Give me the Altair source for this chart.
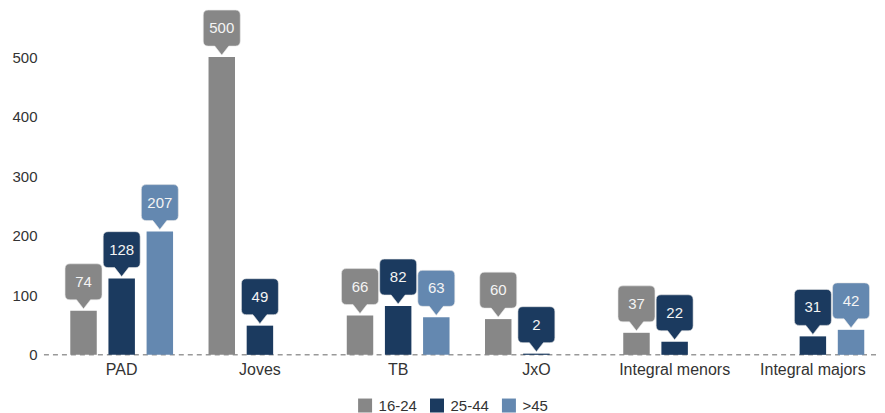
import altair as alt
import pandas as pd

categories = ["PAD", "Joves", "TB", "JxO", "Integral menors", "Integral majors"]
groups = ["16-24", "25-44", ">45"]
values_16_24 = [74, 500, 66, 60, 37, None]
values_25_44 = [128, 49, 82, 2, 22, 31]
values_45 = [207, None, 63, None, None, 42]
colors = ["#878787", "#1b3a5f", "#6488b0"]
y_ticks = [0, 100, 200, 300, 400, 500]

rows = []
for g, vals in zip(groups, [values_16_24, values_25_44, values_45]):
    for c, v in zip(categories, vals):
        if v is not None:
            rows.append({"cat": c, "grp": g, "val": v})
df = pd.DataFrame(rows)

FONT = "Liberation Sans"

bubble = ("M0,-2 L-7,-11 L-13.5,-11 Q-18.5,-11 -18.5,-16 L-18.5,-42 "
          "Q-18.5,-47 -13.5,-47 L13.5,-47 Q18.5,-47 18.5,-42 L18.5,-16 "
          "Q18.5,-11 13.5,-11 L7,-11 Z")

x_enc = alt.X("cat:N", sort=categories, title=None,
              scale=alt.Scale(paddingInner=0.2565, paddingOuter=0.1449, align=0.707),
              axis=alt.Axis(labelAngle=0, domain=False, ticks=False, labelPadding=7,
                            labelFontSize=16, labelColor="#333333", labelFont=FONT))
xo_enc = alt.XOffset("grp:N", sort=groups,
                     scale=alt.Scale(domain=groups, paddingInner=0.306, paddingOuter=0))
y_enc = alt.Y("val:Q", title=None,
              scale=alt.Scale(domain=[0, 582], nice=False, zero=True),
              axis=alt.Axis(values=y_ticks, domain=False, ticks=False, grid=False,
                            labelPadding=5, labelFontSize=15, labelColor="#333333",
                            labelFont=FONT, minExtent=34, maxExtent=34))
color_enc = alt.Color("grp:N", sort=groups,
                      scale=alt.Scale(domain=groups, range=colors),
                      legend=alt.Legend(title=None, orient="none", direction="horizontal",
                                        legendX=316, legendY=390, symbolType="square",
                                        symbolSize=196, symbolStrokeWidth=0,
                                        labelFontSize=15, labelFont=FONT,
                                        labelColor="#333333", labelOffset=6,
                                        columnPadding=12))

base = alt.Chart(df)

bars = base.mark_bar(size=26.5).encode(x=x_enc, xOffset=xo_enc, y=y_enc, color=color_enc)

bubbles = base.mark_point(shape=bubble, size=4, filled=True, opacity=1,
                          stroke="#e6e6e6", strokeWidth=0.6).encode(
    x=x_enc, xOffset=xo_enc, y=y_enc, fill=alt.Fill("grp:N", sort=groups,
        scale=alt.Scale(domain=groups, range=colors), legend=None))

labels = base.mark_text(dy=-29, baseline="middle", align="center", fontSize=15,
                        font=FONT, color="#f4f4f4").encode(
    x=x_enc, xOffset=xo_enc, y=y_enc, text="val:Q")

baseline = alt.Chart(pd.DataFrame({"v": [0]})).mark_rule(
    color="#666666", strokeDash=[5, 4], strokeWidth=1).encode(y=alt.Y("v:Q"))

chart = alt.layer(baseline, bars, bubbles, labels).properties(
    width=835, height=347,
    padding={"left": 0, "top": 0, "right": 0, "bottom": 0},
).configure(font=FONT).configure_view(stroke=None, strokeWidth=0)

chart.save("out.html", embed_options={"renderer": "svg", "actions": False})
